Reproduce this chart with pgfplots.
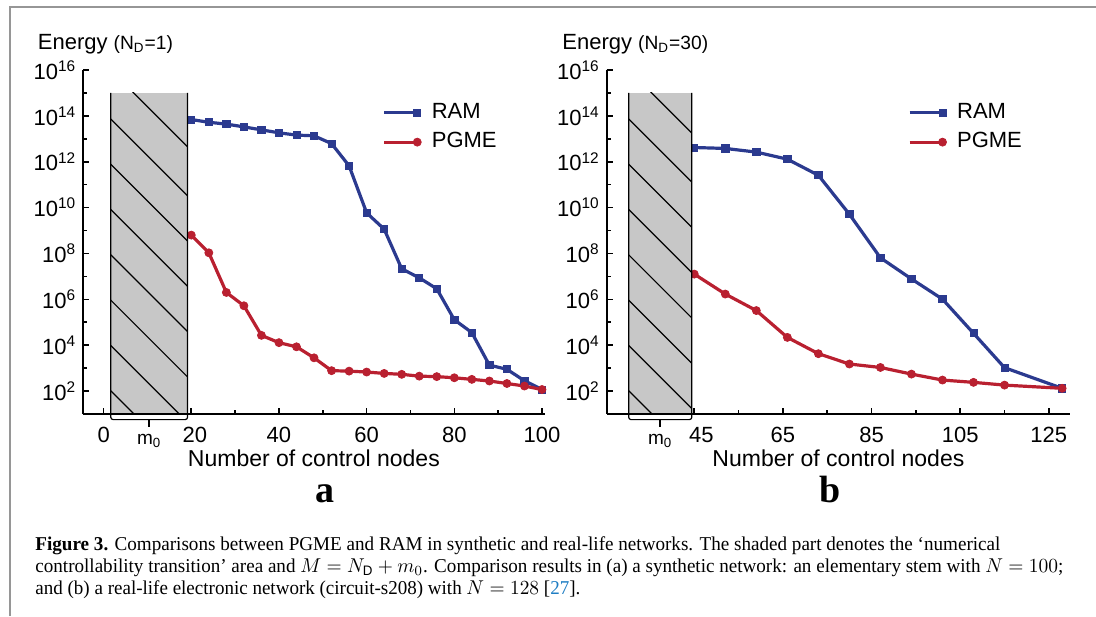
\documentclass[border=0pt]{standalone}
\usepackage{fontspec}
\setmainfont{Liberation Sans}
\newfontfamily\seriffont{Liberation Serif}
\usepackage{graphicx}
\usepackage{pgfplots}
\pgfplotsset{compat=1.18}

\definecolor{ramblue}{RGB}{43,58,143}
\definecolor{pgmered}{RGB}{185,32,48}
\definecolor{citeblue}{RGB}{30,125,195}
\definecolor{framegray}{RGB}{150,150,150}

\begin{document}
\begin{tikzpicture}
\useasboundingbox (0,0) rectangle (548pt,-308pt);
\draw[framegray, line width=1pt] (5pt,-308pt) -- (5pt,-3.35pt) -- (548pt,-3.35pt);

% panel a
\begin{axis}[at={(41.6pt,-207pt)}, anchor=south west,
    scale only axis, width=230.7pt, height=172pt,
    xmin=-4.66, xmax=100.6,
    ymode=log, ymin=10, ymax=1e16,
    xtick={0,20,...,100}, minor xtick={10,30,...,90},
    xticklabels={0,\hspace{3.6pt}20,40,60,80,100},
    ytick={1e2,1e4,1e6,1e8,1e10,1e12,1e14,1e16},
    yticklabels={10\textsuperscript{2},10\textsuperscript{4},10\textsuperscript{6},10\textsuperscript{8},
                 10\textsuperscript{10},10\textsuperscript{12},10\textsuperscript{14},10\textsuperscript{16}},
    minor ytick={1e3,1e5,1e7,1e9,1e11,1e13,1e15},
    axis lines*=left,
    axis line style={line width=0.9pt},
    tick align=inside,
    major tick length=3pt, minor tick length=2pt,
    tick style={black, line width=0.8pt},
    ticklabel style={font=\fontsize{11}{13}\selectfont},
    xticklabel style={anchor=base, inner sep=0pt, yshift=-14.4pt},
    xlabel={Number of control nodes},
    xlabel style={at={(axis description cs:0.5,0)}, anchor=base, inner sep=0pt, yshift=-26pt,
                  font=\fontsize{11.5}{13}\selectfont},
    clip=false,
    legend cell align=left,
    legend style={draw=none, fill=none, at={(axis description cs:0.649,0.906)},
                  anchor=north west, inner sep=0pt, outer sep=0pt,
                  row sep=4.15pt, font=\fontsize{11}{13}\selectfont,
                  nodes={inner sep=0pt, text height=8pt, text depth=2.5pt},
                  /tikz/every odd column/.append style={column sep=5pt}},
    legend image code/.code={\draw[mark repeat=2,mark phase=2,#1]
        plot coordinates {(0pt,0pt) (16.5pt,0pt) (18pt,0pt)};}]
\addplot[ramblue, line width=1.6pt, mark=square*, mark size=1.8pt, mark options={line width=0.4pt}]
 coordinates {
 (20,6.92e13) (24,5.25e13) (28,4.37e13) (32,3.31e13) (36,2.45e13) (40,1.82e13)
 (44,1.45e13) (48,1.35e13) (52,6.17e12) (56,6.61e11) (60,5.89e9) (64,1.15e9)
 (68,2.14e7) (72,8.71e6) (76,2.88e6) (80,1.29e5) (84,3.55e4) (88,1.35e3)
 (92,891) (96,282) (100,117)};
\addplot[pgmered, line width=1.6pt, mark=*, mark size=2pt, mark options={line width=0.4pt}]
 coordinates {
 (20,6.31e8) (24,1.07e8) (28,2.0e6) (32,5.25e5) (36,2.69e4) (40,1.29e4)
 (44,8.51e3) (48,2.82e3) (52,776) (56,741) (60,676) (64,589) (68,537)
 (72,447) (76,427) (80,380) (84,324) (88,275) (92,214) (96,166) (100,117)};
\legend{RAM,PGME}
\coordinate (aBL) at (axis cs:1.63,10);
\coordinate (aBR) at (axis cs:19.15,10);
\coordinate (aTL) at (axis cs:1.63,1e15);
\coordinate (aTR) at (axis cs:19.15,1e15);
\coordinate (aM) at (axis cs:10.39,10);
\end{axis}

% panel b
\begin{axis}[at={(303.35pt,-207pt)}, anchor=south west,
    scale only axis, width=231.7pt, height=172pt,
    xmin=25.24, xmax=129.8,
    ymode=log, ymin=10, ymax=1e16,
    xtick={25,45,...,125}, minor xtick={35,55,...,115},
    xticklabels={25,\hspace{7pt}45,65,85,105,125},
    ytick={1e2,1e4,1e6,1e8,1e10,1e12,1e14,1e16},
    yticklabels={10\textsuperscript{2},10\textsuperscript{4},10\textsuperscript{6},10\textsuperscript{8},
                 10\textsuperscript{10},10\textsuperscript{12},10\textsuperscript{14},10\textsuperscript{16}},
    minor ytick={1e3,1e5,1e7,1e9,1e11,1e13,1e15},
    axis lines*=left,
    axis line style={line width=0.9pt},
    tick align=inside,
    major tick length=3pt, minor tick length=2pt,
    tick style={black, line width=0.8pt},
    ticklabel style={font=\fontsize{11}{13}\selectfont},
    xticklabel style={anchor=base, inner sep=0pt, yshift=-14.4pt},
    xlabel={Number of control nodes},
    xlabel style={at={(axis description cs:0.5,0)}, anchor=base, inner sep=0pt, yshift=-26pt,
                  font=\fontsize{11.5}{13}\selectfont},
    clip=false,
    legend cell align=left,
    legend style={draw=none, fill=none, at={(axis description cs:0.650,0.906)},
                  anchor=north west, inner sep=0pt, outer sep=0pt,
                  row sep=4.15pt, font=\fontsize{11}{13}\selectfont,
                  nodes={inner sep=0pt, text height=8pt, text depth=2.5pt},
                  /tikz/every odd column/.append style={column sep=5pt}},
    legend image code/.code={\draw[mark repeat=2,mark phase=2,#1]
        plot coordinates {(0pt,0pt) (16.5pt,0pt) (18pt,0pt)};}]
\addplot[ramblue, line width=1.6pt, mark=square*, mark size=1.8pt, mark options={line width=0.4pt}]
 coordinates {
 (45,4.17e12) (52,3.80e12) (59,2.63e12) (66,1.29e12) (73,2.57e11) (80,5.13e9)
 (87,6.46e7) (94,7.76e6) (101,1.02e6) (108,3.31e4) (115,1.05e3) (128,132)};
\addplot[pgmered, line width=1.6pt, mark=*, mark size=2pt, mark options={line width=0.4pt}]
 coordinates {
 (45,1.26e7) (52,1.70e6) (59,3.24e5) (66,2.19e4) (73,4.27e3) (80,1.51e3)
 (87,1.07e3) (94,550) (101,302) (108,240) (115,182) (128,132)};
\legend{RAM,PGME}
\coordinate (bBL) at (axis cs:30.2,10);
\coordinate (bBR) at (axis cs:44.44,10);
\coordinate (bTL) at (axis cs:30.2,1e15);
\coordinate (bTR) at (axis cs:44.44,1e15);
\coordinate (bM) at (axis cs:37.32,10);
\end{axis}

% shaded m0 regions
\foreach \p in {a,b} {
  \fill[black!22] (\p BL) rectangle (\p TR);
  \begin{scope}
    \clip (\p BL) rectangle (\p TR);
    \foreach \o in {11.5,-13,-35.65,-58.3,-80.95,-103.6,-126.25,-148.9}
      \draw[line width=0.6pt] ([yshift=\o pt]\p TL) -- ++(60pt,-60pt);
  \end{scope}
  \draw[line width=0.6pt, rounded corners=1.2pt]
    (\p TL) -- ([yshift=-2.8pt]\p BL) -- ([yshift=-2.8pt]\p BR) -- (\p TR);
  \draw[line width=0.9pt] (\p BL) -- (\p BR);
  \draw[line width=0.8pt] ([yshift=-2.8pt]\p M) -- ([yshift=-6.5pt]\p M);
  \node[anchor=base, inner sep=0pt, font=\fontsize{9.5}{11}\selectfont]
    at ([yshift=-15pt]\p M) {m\textsubscript{0}};
}

% titles
\node[anchor=base west, inner sep=0pt, font=\fontsize{11}{13}\selectfont]
  at (18.75pt,-24.5pt) {Energy {\fontsize{9.6}{11}\selectfont(N\textsubscript{D}=1)}};
\node[anchor=base west, inner sep=0pt, font=\fontsize{11}{13}\selectfont]
  at (281pt,-24.5pt) {Energy {\fontsize{9.6}{11}\selectfont(N\textsubscript{D}=30)}};

\node[anchor=base, inner sep=0pt, font=\seriffont\bfseries\fontsize{19}{20}\selectfont]
  at (162.5pt,-251pt) {a};
\node[anchor=base, inner sep=0pt, font=\seriffont\bfseries\fontsize{19}{20}\selectfont]
  at (415pt,-251pt) {b};

% caption
\node[anchor=base west, inner sep=0pt] at (17.5pt,-275.2pt) {\resizebox{482.5pt}{\height}{%
  \seriffont\fontsize{9.8}{11}\selectfont\textbf{Figure 3.} Comparisons between PGME and RAM in synthetic and real-life networks. The shaded part denotes the ‘numerical}};
\node[anchor=base west, inner sep=0pt] at (17.5pt,-286.3pt) {\resizebox{514pt}{\height}{%
  \seriffont\fontsize{9.8}{11}\selectfont controllability transition’ area and $M = N_{\mathrm{D}} + m_0$. Comparison results in (a) a synthetic network: an elementary stem with $N = 100$;}};
\node[anchor=base west, inner sep=0pt] at (17.5pt,-297.4pt) {\resizebox{272.5pt}{\height}{%
  \seriffont\fontsize{9.8}{11}\selectfont and (b) a real-life electronic network (circuit-s208) with $N = 128$ [\textcolor{citeblue}{27}].}};
\end{tikzpicture}
\end{document}
